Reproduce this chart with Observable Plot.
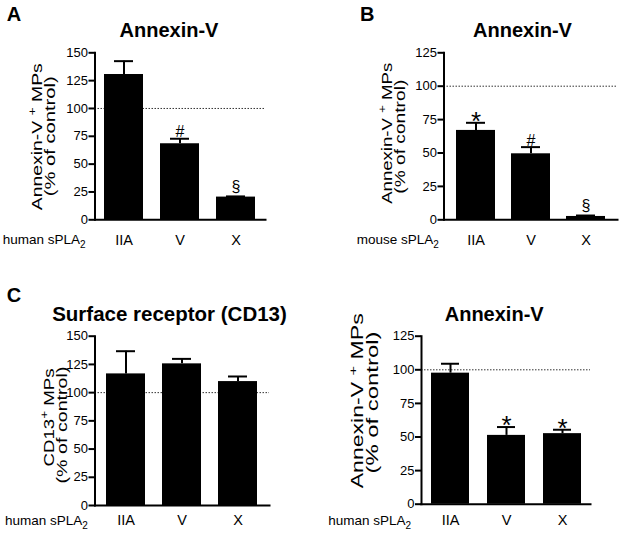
<!DOCTYPE html>
<html><head><meta charset="utf-8">
<script src="https://cdn.jsdelivr.net/npm/d3@7"></script>
<script src="https://cdn.jsdelivr.net/npm/@observablehq/plot@0.6"></script>
<style>
body{margin:0;background:#fff;}
#fig{position:relative;width:621px;height:534px;background:#fff;overflow:hidden;}
#fig svg{position:absolute;overflow:visible;background:transparent;}
</style></head><body><div id="fig"></div>
<script>
// ---- data ----
const categories = ["IIA", "V", "X"];
const meanA = [130.5, 68.3, 20.4];
const errA  = [12.0, 4.5, 0.6];
const markA = ["", "#", "§"];
const meanB = [66.9, 49.4, 2.5];
const errB  = [5.7, 5.0, 0.7];
const markB = ["*", "#", "§"];
const meanC = [116.6, 125.5, 109.8];
const errC  = [20.1, 4.4, 4.5];
const markC = ["", "", ""];
const meanD = [97.5, 51.2, 52.5];
const errD  = [7.0, 6.2, 2.9];
const markD = ["", "*", "*"];
const ticks150 = [0, 25, 50, 75, 100, 125, 150];
const ticks125 = [0, 25, 50, 75, 100, 125];
const controlLevel = [100];

const FONT = '"Liberation Sans", Arial, Helvetica, sans-serif';

const panels = [
  {letter:"A", title:"Annexin-V", mean:meanA, err:errA, mark:markA, ticks:ticks150, max:150,
   y1:["Annexin-V ", "+", " MPs"], y2:"(% of control)", xlab:"human sPLA",
   left:0, top:0, width:310, height:260, mL:94.5, mR:45, mT:52.3, mB:40.7, pi:0.31, po:0.177, tp:14.7,
   lp:[6.7,21], tpos:[169,36.7], tfs:20, yl:{b1:41.5,c1:136.7,l1:147,b2:55,c2:136.3,l2:120,fs:15}, xl:[2.7,244]},
  {letter:"B", title:"Annexin-V", mean:meanB, err:errB, mark:markB, ticks:ticks125, max:125,
   y1:["Annexin-V ", "+", " MPs"], y2:"(% of control)", xlab:"mouse sPLA",
   left:310, top:0, width:311, height:260, mL:133.5, mR:4, mT:52.3, mB:40.7, pi:0.297, po:0.203, tp:14.7,
   lp:[50,20.7], tpos:[212.5,36.7], tfs:20, yl:{b1:81.5,c1:133.3,l1:141,b2:95,c2:136.7,l2:114,fs:15}, xl:[46.7,244]},
  {letter:"C", title:"Surface receptor (CD13)", mean:meanC, err:errC, mark:markC, ticks:ticks150, max:150,
   y1:["CD13", "+", " MPs"], y2:"(% of control)", xlab:"human sPLA",
   left:0, top:267, width:310, height:267, mL:94.5, mR:41, mT:68.7, mB:29, pi:0.31, po:0.19, tp:9.5,
   lp:[6.7,35.3], tpos:[169.5,53.5], tfs:20.5, yl:{b1:54,c1:150.5,l1:98,b2:67,c2:158,l2:117,fs:15}, xl:[5,258]},
  {letter:"", title:"Annexin-V", mean:meanD, err:errD, mark:markD, ticks:ticks125, max:125,
   y1:["Annexin-V ", "+", " MPs"], y2:"(% of control)", xlab:"human sPLA",
   left:310, top:267, width:311, height:267, mL:111, mR:31, mT:68.7, mB:30.3, pi:0.33, po:0.157, tp:10.8,
   lp:[0,0], tpos:[184.2,53.7], tfs:20, yl:{b1:53.3,c1:133.8,l1:175,b2:67.5,c2:135.5,l2:142,fs:16}, xl:[18.3,258]}
];

const symStyle = {"#": {dy:-1.6, fs:16}, "§": {dy:-4.5, fs:16}, "*": {dy:7, fs:26}};

const fig = document.getElementById("fig");

for (const p of panels) {
  const data = categories.map((c, i) => ({cat:c, mean:p.mean[i], upper:p.mean[i] + p.err[i], sym:p.mark[i]}));
  const symMarks = Object.entries(symStyle).map(([s, st]) =>
    Plot.text(data.filter(d => d.sym === s), {x:"cat", y:"upper", text:"sym", lineAnchor:"bottom",
      dy:st.dy, fontSize:st.fs, fill:"#000"}));
  const chart = Plot.plot({
    width:p.width, height:p.height,
    marginLeft:p.mL, marginRight:p.mR, marginTop:p.mT, marginBottom:p.mB,
    style:{fontFamily:FONT, fontSize:"13px", color:"#000", background:"transparent", overflow:"visible"},
    x:{domain:categories, paddingInner:p.pi, paddingOuter:p.po, label:null},
    y:{domain:[0, p.max], label:null},
    marks:[
      Plot.ruleY(controlLevel, {stroke:"#333", strokeWidth:1, strokeDasharray:"1.5,1.5"}),
      Plot.ruleX(data, {x:"cat", y1:"mean", y2:"upper", stroke:"#000", strokeWidth:2}),
      Plot.tickY(data, {x:"cat", y:"upper", stroke:"#000", strokeWidth:2, inset:10}),
      Plot.barY(data, {x:"cat", y:"mean", fill:"#000"}),
      Plot.frame({anchor:"left", stroke:"#000", strokeWidth:2}),
      Plot.frame({anchor:"bottom", stroke:"#000", strokeWidth:2}),
      Plot.axisY({ticks:p.ticks, tickSize:6, tickPadding:1, strokeWidth:2, fontSize:13, label:null, fill:"#000"}),
      Plot.axisX({tickSize:0, tickPadding:p.tp, fontSize:14.5, label:null, fill:"#000"}),
      ...symMarks
    ]
  });
  chart.style.left = p.left + "px";
  chart.style.top = p.top + "px";
  fig.appendChild(chart);

  const svg = d3.select(chart);
  const g = svg.append("g").attr("font-family", FONT).attr("fill", "#000").attr("text-anchor", "start");
  if (p.letter) {
    g.append("text").attr("x", p.lp[0]).attr("y", p.lp[1]).attr("font-size", 20)
      .attr("font-weight", "bold").text(p.letter);
  }
  g.append("text").attr("x", p.tpos[0]).attr("y", p.tpos[1]).attr("font-size", p.tfs)
    .attr("font-weight", "bold").attr("text-anchor", "middle").text(p.title);

  const t1 = g.append("text")
    .attr("transform", `translate(${p.yl.b1},${p.yl.c1}) rotate(-90)`)
    .attr("x", -p.yl.l1 / 2).attr("font-size", p.yl.fs)
    .attr("textLength", p.yl.l1).attr("lengthAdjust", "spacingAndGlyphs");
  t1.append("tspan").text(p.y1[0]);
  t1.append("tspan").attr("dy", -6).attr("font-size", p.yl.fs * 0.72).text(p.y1[1]);
  t1.append("tspan").attr("dy", 6).text(p.y1[2]);

  g.append("text")
    .attr("transform", `translate(${p.yl.b2},${p.yl.c2}) rotate(-90)`)
    .attr("x", -p.yl.l2 / 2).attr("font-size", p.yl.fs)
    .attr("textLength", p.yl.l2).attr("lengthAdjust", "spacingAndGlyphs")
    .text(p.y2);

  const xt = g.append("text").attr("x", p.xl[0]).attr("y", p.xl[1]).attr("font-size", 13.5);
  xt.append("tspan").text(p.xlab);
  xt.append("tspan").attr("dy", 4).attr("font-size", 10).text("2");
}
</script></body></html>
